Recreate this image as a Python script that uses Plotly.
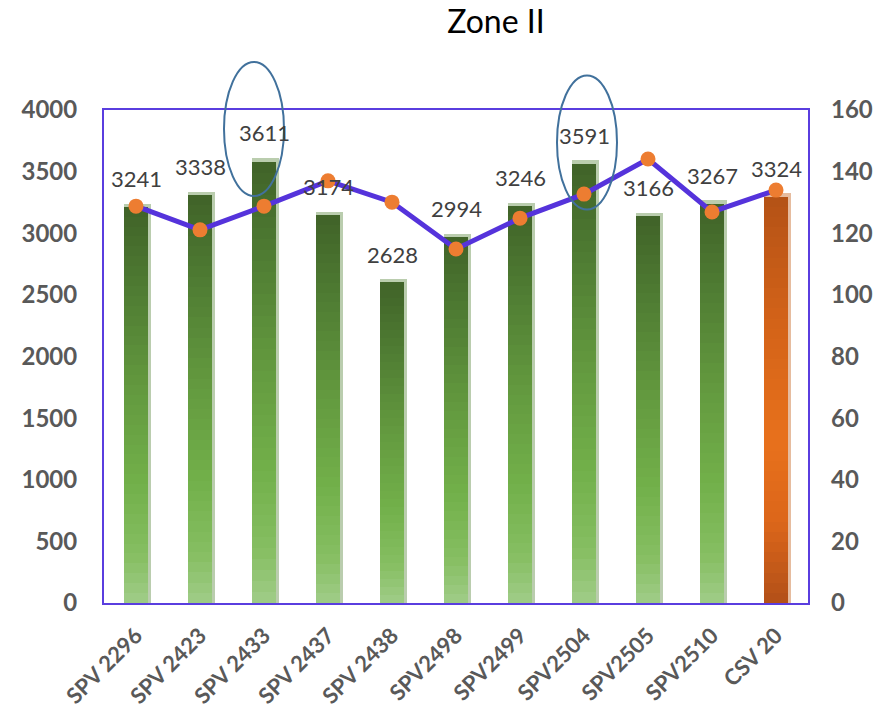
import plotly.graph_objects as go

# ---- data -------------------------------------------------------------
categories = ["SPV 2296", "SPV 2423", "SPV 2433", "SPV 2437", "SPV 2438",
              "SPV2498", "SPV2499", "SPV2504", "SPV2505", "SPV2510", "CSV 20"]
bar_values = [3241, 3338, 3611, 3174, 2628, 2994, 3246, 3591, 3166, 3267, 3324]
line_values = [128.8, 121.1, 128.8, 137.0, 130.1, 114.9, 124.9, 132.7, 144.1, 126.9, 134.0]
left_ticks = [0, 500, 1000, 1500, 2000, 2500, 3000, 3500, 4000]
right_ticks = [0, 20, 40, 60, 80, 100, 120, 140, 160]
highlighted = ["SPV 2433", "SPV2504"]

# ---- styling ----------------------------------------------------------
FONT = "Lato"
TICK_COLOR = "#595959"
LABEL_COLOR = "#404040"
FRAME_COLOR = "#5A3EDF"
LINE_COLOR = "#5533DB"
MARKER_COLOR = "#ED7D31"
Y_MAX = left_ticks[-1]

# vertical gradient stops (fraction of bar height -> rgb)
GREEN_STOPS = [(0.0, (160, 204, 136)), (0.12, (134, 190, 98)), (0.3, (114, 176, 74)),
               (0.55, (98, 152, 62)), (0.8, (78, 122, 50)), (1.0, (64, 99, 40))]
ORANGE_STOPS = [(0.0, (178, 80, 24)), (0.2, (220, 102, 26)), (0.4, (232, 113, 28)),
                (0.7, (210, 98, 24)), (1.0, (180, 82, 22))]
GREEN_BACK = "#BACDAE"
ORANGE_BACK = "#E6BC9F"


def blend(stops, t):
    for (t0, c0), (t1, c1) in zip(stops, stops[1:]):
        if t <= t1:
            k = (t - t0) / (t1 - t0) if t1 > t0 else 0
            return "rgb({},{},{})".format(*[round(a + (b - a) * k) for a, b in zip(c0, c1)])
    return "rgb({},{},{})".format(*stops[-1][1])


is_orange = [c == "CSV 20" for c in categories]

fig = go.Figure()

# light back bar: gives the pale right-hand edge and top cap
fig.add_trace(go.Bar(
    x=categories, y=bar_values, width=0.42, offset=-0.18,
    marker=dict(color=[ORANGE_BACK if o else GREEN_BACK for o in is_orange], line_width=0),
    hoverinfo="skip", showlegend=False,
))

# gradient body built from thin slices of each bar
N = 40
top = 0.992
for k in range(N):
    f0, f1 = top * k / N, top * (k + 1) / N
    tm = (f0 + f1) / 2 / top
    colors = [blend(ORANGE_STOPS if o else GREEN_STOPS, tm) for o in is_orange]
    fig.add_trace(go.Bar(
        x=categories,
        y=[v * (f1 - f0) for v in bar_values],
        base=[v * f0 for v in bar_values],
        width=0.36, offset=-0.18,
        marker=dict(color=colors, line_width=0),
        hoverinfo="skip", showlegend=False,
    ))

# line on the secondary axis
fig.add_trace(go.Scatter(
    x=categories, y=line_values, yaxis="y2", mode="lines+markers",
    line=dict(color=LINE_COLOR, width=5),
    marker=dict(color=MARKER_COLOR, size=15, line_width=0),
    showlegend=False,
))

# value labels above bars
for c, v in zip(categories, bar_values):
    fig.add_annotation(x=c, y=v, xref="x", yref="y", text=str(v), showarrow=False,
                       yanchor="middle", yshift=25,
                       font=dict(family=FONT, size=22, color=LABEL_COLOR))

# ellipses around highlighted bars (paper coordinates so they may leave the frame)
ellipse_px = {"SPV 2433": (-40, 20, -38, 96), "SPV2504": (-27, 33, -49, 85)}
for c in highlighted:
    i = categories.index(c)
    v = bar_values[i]
    x0, x1, y0, y1 = ellipse_px[c]
    fig.add_shape(type="circle", xref="paper", yref="paper",
                  xsizemode="pixel", ysizemode="pixel",
                  xanchor=(i + 0.5) / len(categories), yanchor=v / Y_MAX,
                  x0=x0, x1=x1, y0=y0, y1=y1,
                  line=dict(color="#41719C", width=2), fillcolor="rgba(0,0,0,0)")

tick_font = dict(family=FONT, size=24, color=TICK_COLOR, weight="bold")

fig.update_layout(
    width=882, height=710,
    margin=dict(l=104, r=74, t=110, b=107),
    paper_bgcolor="white", plot_bgcolor="white",
    barmode="overlay", bargap=0,
    title=dict(text="Zone II", x=496 / 882, xanchor="center", xref="container",
               y=1 - 22 / 710, yanchor="middle", yref="container",
               font=dict(family=FONT, size=32, color="black")),
    xaxis=dict(categoryorder="array", categoryarray=categories,
               range=[-0.5, len(categories) - 0.5], automargin=False,
               showline=True, linecolor=FRAME_COLOR, linewidth=2, mirror=True,
               showgrid=False, ticks="", tickangle=-45,
               tickfont=dict(family=FONT, size=22, color=TICK_COLOR, weight="bold"),
               ticklabelstandoff=9),
    yaxis=dict(range=[0, Y_MAX], tickvals=left_ticks, automargin=False,
               showline=True, linecolor=FRAME_COLOR, linewidth=2, mirror=True,
               showgrid=False, zeroline=False, ticks="",
               tickfont=tick_font, ticklabelstandoff=20),
    yaxis2=dict(range=[0, right_ticks[-1]], tickvals=right_ticks, overlaying="y",
                side="right", automargin=False,
                showline=False, showgrid=False, zeroline=False, ticks="",
                tickfont=tick_font, ticklabelstandoff=22),
)

fig.write_html("out.html")
